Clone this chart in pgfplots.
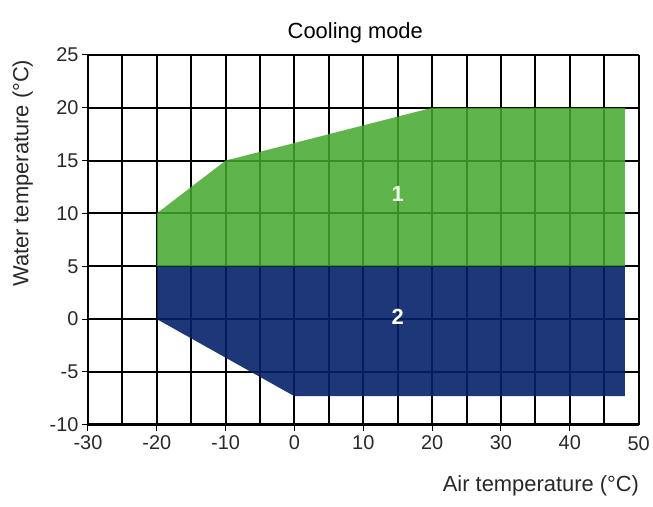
\documentclass[border=0pt]{standalone}
\usepackage{pgfplots}
\pgfplotsset{compat=1.18}
\usepackage{fontspec}
\setmainfont{Liberation Sans}
\definecolor{zgreen}{RGB}{67,167,43}
\definecolor{zblue}{RGB}{5,33,105}
\definecolor{zgrid}{RGB}{160,160,160}
\definecolor{ztxt}{RGB}{40,40,40}
\begin{document}
\begin{tikzpicture}
\begin{axis}[
  scale only axis,
  width=551bp, height=370bp,
  xmin=-30, xmax=50, ymin=-10, ymax=25,
  axis x line*=bottom, axis y line*=left,
  axis line style={black, line width=2.6pt, -},
  xtick={-30,-20,...,40}, ytick={-10,0,10,20},
  extra x ticks={-25,-15,...,45,50},
  extra x tick labels={,,,,,,,,50},
  extra y ticks={-5,5,15,25},
  extra x tick style={grid style={zgrid, line width=1.1pt}, major tick length=0pt, xticklabel style={yshift=-7pt}},
  extra y tick style={grid style={zgrid, line width=1.1pt}},
  grid=major,
  major grid style={black, line width=2pt},
  tick style={black, line width=1pt},
  major tick length=6pt,
  tick align=outside,
  ticklabel style={font=\fontsize{20}{22}\selectfont, text=ztxt},
  xticklabel style={yshift=-1pt},
  /pgf/number format/assume math mode=true,
  title={Cooling mode},
  title style={font=\fontsize{22}{25}\selectfont, yshift=2pt, xshift=-8pt},
  xlabel={Air temperature (°C)},
  xlabel style={font=\fontsize{22}{26}\selectfont, text=ztxt, at={(ticklabel cs:1)}, anchor=north east, xshift=4pt, yshift=-13pt},
  ylabel={Water temperature (°C)},
  ylabel style={font=\fontsize{22}{26}\selectfont, text=ztxt, at={(ticklabel cs:0.68)}, yshift=-2pt},
  clip=false,
]
\addplot[draw=none, fill=zgreen, fill opacity=0.85] coordinates {
  (-20,5) (-20,10) (-10,15) (20,20) (48,20) (48,5)
} -- cycle;
\addplot[draw=none, fill=zblue, fill opacity=0.9] coordinates {
  (-20,5) (-20,0) (0,-7.3) (48,-7.3) (48,5)
} -- cycle;
\node[text=white!92!green, font=\bfseries\fontsize{22}{24}\selectfont] at (axis cs:15,11.8) {1};
\node[text=white, font=\bfseries\fontsize{22}{24}\selectfont] at (axis cs:15,0.2) {2};
\end{axis}
\path (current axis.south west) ++(-88bp,-82bp);
\path (current axis.north east) ++(14bp,55bp);
\end{tikzpicture}
\end{document}
